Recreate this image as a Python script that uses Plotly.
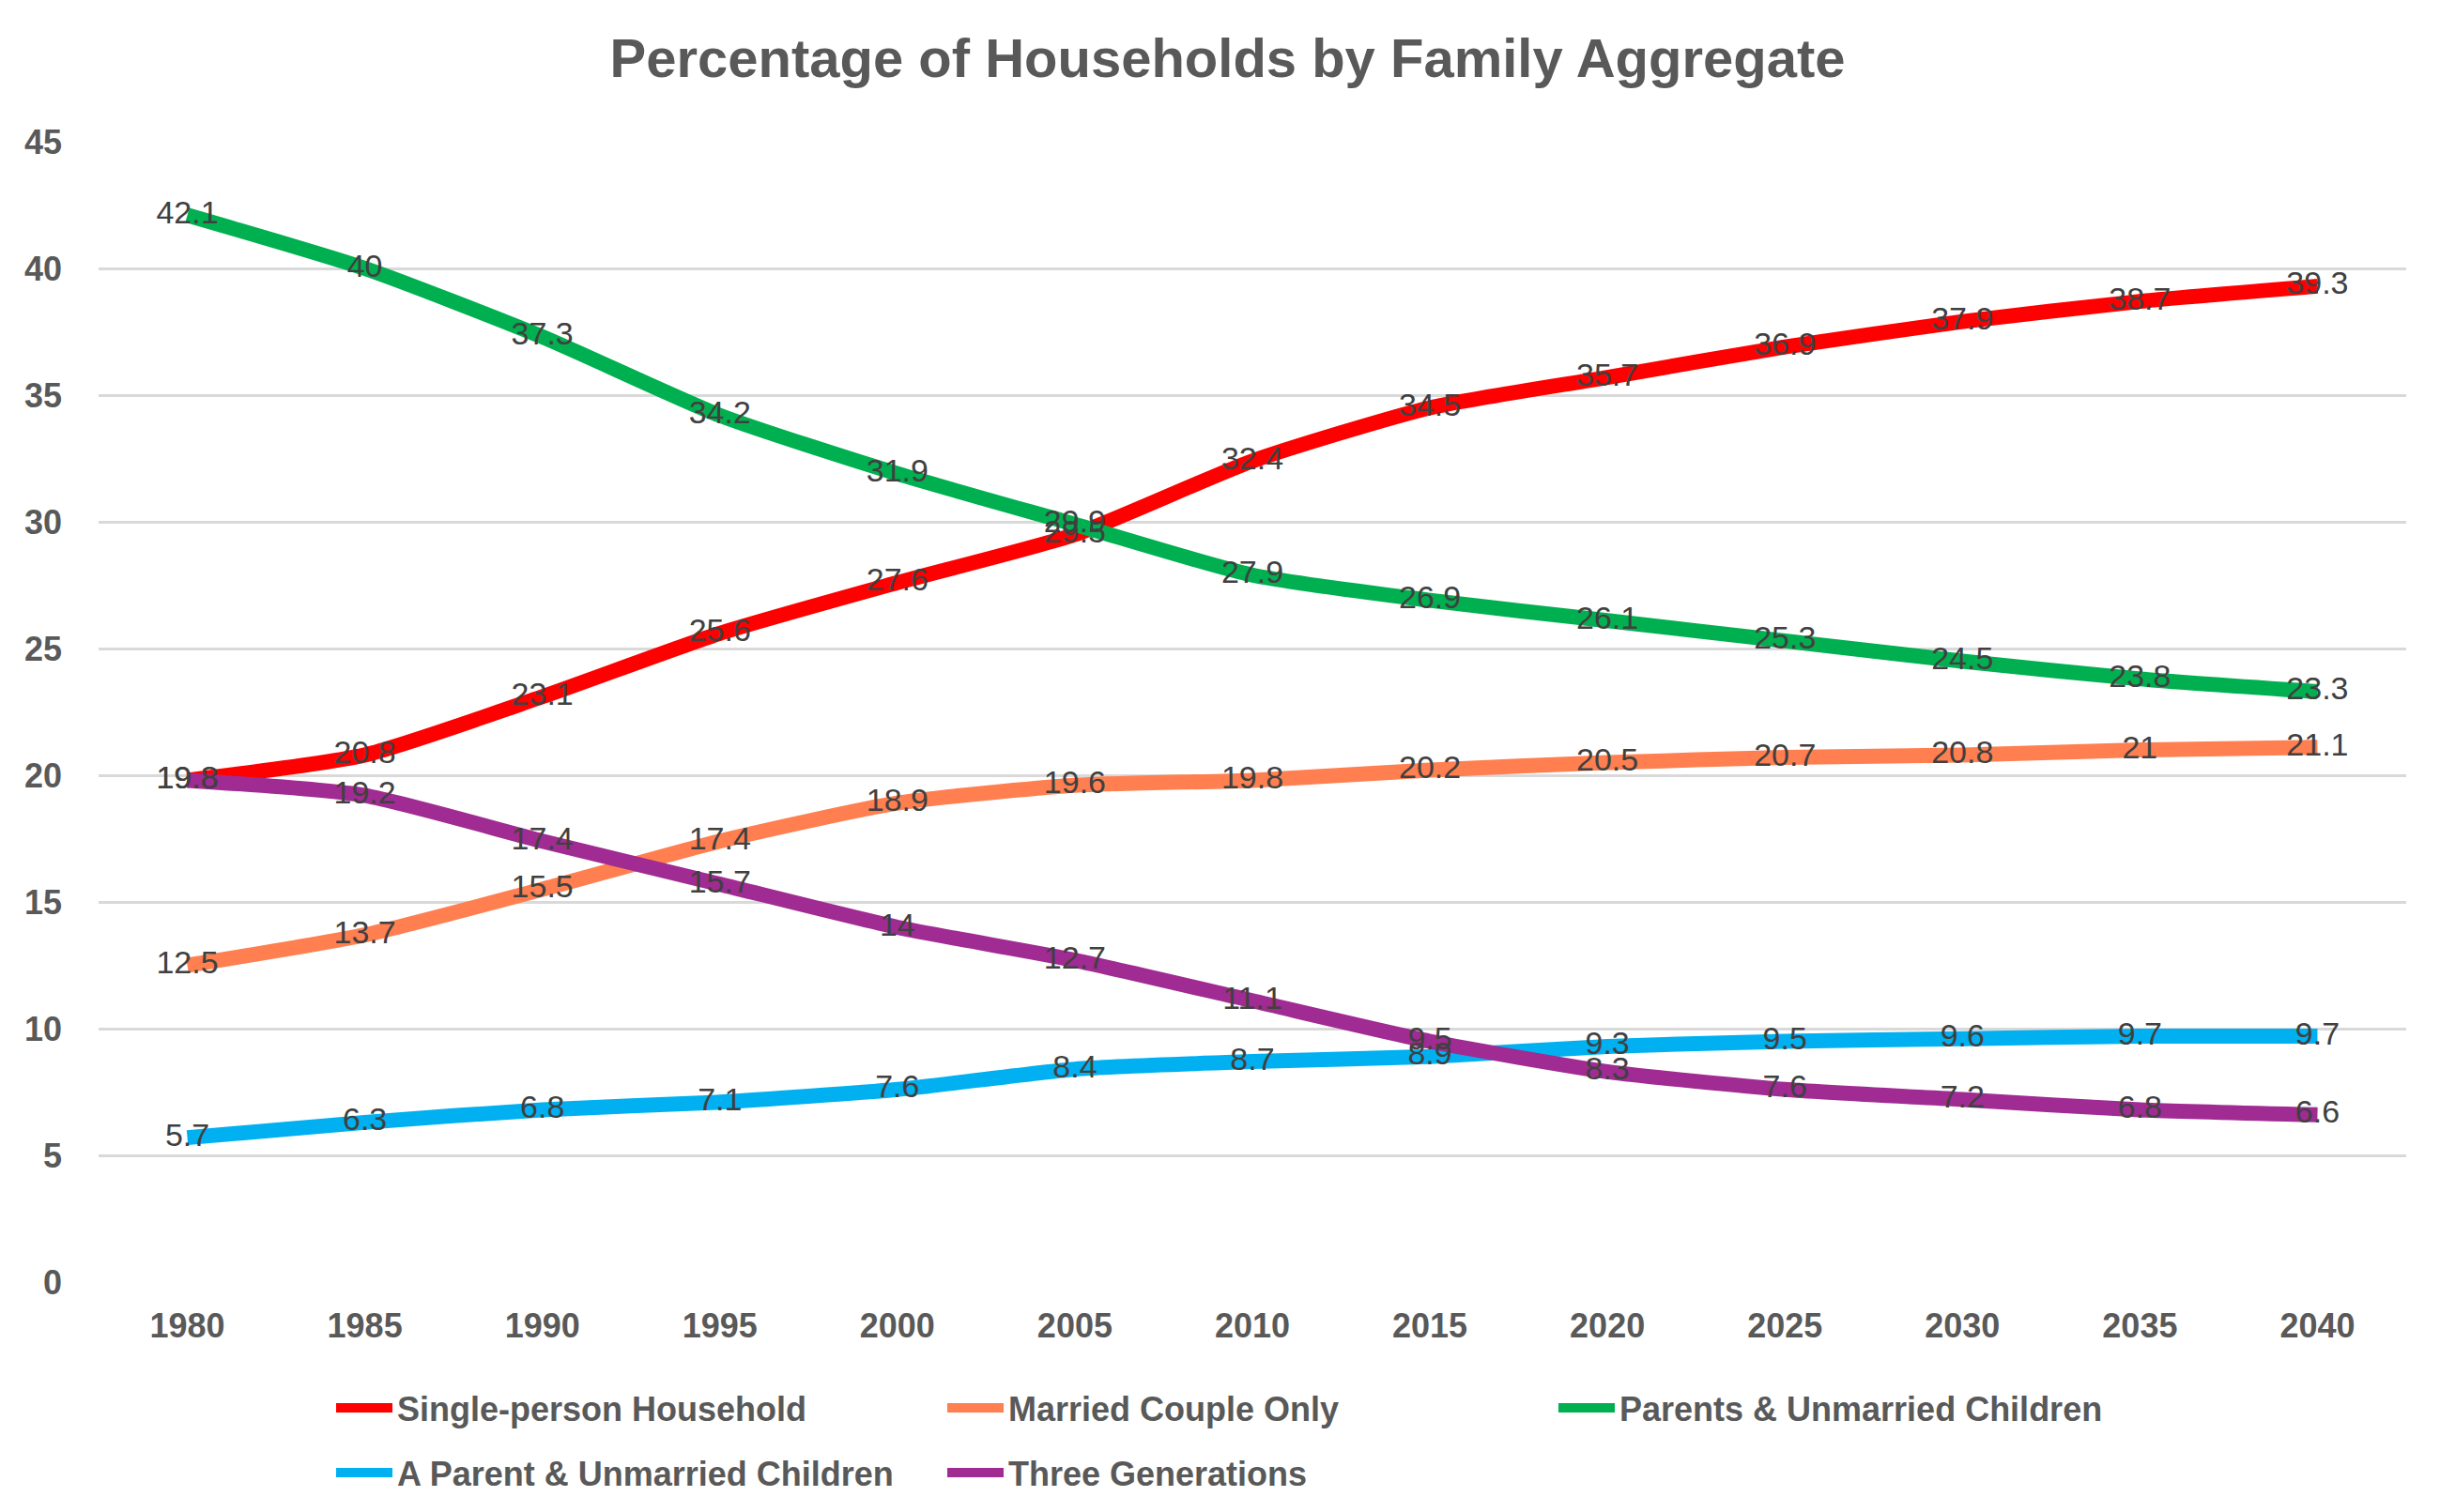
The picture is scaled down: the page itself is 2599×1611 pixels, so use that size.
import plotly.graph_objects as go

years = ["1980", "1985", "1990", "1995", "2000", "2005", "2010", "2015", "2020", "2025", "2030", "2035", "2040"]
single_person = [19.8, 20.8, 23.1, 25.6, 27.6, 29.5, 32.4, 34.5, 35.7, 36.9, 37.9, 38.7, 39.3]
married_couple = [12.5, 13.7, 15.5, 17.4, 18.9, 19.6, 19.8, 20.2, 20.5, 20.7, 20.8, 21, 21.1]
parents_children = [42.1, 40, 37.3, 34.2, 31.9, 29.9, 27.9, 26.9, 26.1, 25.3, 24.5, 23.8, 23.3]
parent_children = [5.7, 6.3, 6.8, 7.1, 7.6, 8.4, 8.7, 8.9, 9.3, 9.5, 9.6, 9.7, 9.7]
three_generations = [19.8, 19.2, 17.4, 15.7, 14, 12.7, 11.1, 9.5, 8.3, 7.6, 7.2, 6.8, 6.6]

series_names = ["Single-person Household", "Married Couple Only", "Parents & Unmarried Children",
                "A Parent & Unmarried Children", "Three Generations"]
series_values = [single_person, married_couple, parents_children, parent_children, three_generations]
series_colors = ["#FF0000", "#FF7F50", "#00B050", "#00B0F0", "#A02B93"]
series_legend = ["legend", "legend", "legend", "legend2", "legend2"]
y_ticks = [0, 5, 10, 15, 20, 25, 30, 35, 40, 45]

FONT = "Liberation Sans"
fig = go.Figure()

for name, vals, col, lg in zip(series_names, series_values, series_colors, series_legend):
    fig.add_trace(go.Scatter(
        x=years, y=vals, name=name, mode="lines", legend=lg,
        line=dict(color=col, width=16, shape="spline", smoothing=0.6),
        hoverinfo="skip",
    ))

for name, vals in zip(series_names, series_values):
    fig.add_trace(go.Scatter(
        x=years, y=vals, mode="text", text=[f"{v:g}" for v in vals],
        textposition="middle center", showlegend=False,
        textfont=dict(family=FONT, size=34, color="#404040"),
        hoverinfo="skip",
    ))

legend_common = dict(orientation="h", xanchor="left", yanchor="middle",
                     entrywidth=576, entrywidthmode="pixels", itemwidth=60,
                     bgcolor="rgba(0,0,0,0)",
                     font=dict(family=FONT, size=36, color="#595959", weight="bold"))

fig.update_layout(
    width=2599, height=1611,
    margin=dict(l=97, r=44, t=143, b=253),
    paper_bgcolor="white", plot_bgcolor="white",
    title=dict(text="<b>Percentage of Households by Family Aggregate</b>",
               x=0.5, xanchor="center", y=1 - 54 / 1611, yanchor="middle",
               font=dict(family=FONT, size=58, color="#595959")),
    xaxis=dict(type="category", range=[-0.5, 12.5], showgrid=False, zeroline=False,
               showline=False, ticks="", ticklabelstandoff=22,
               tickfont=dict(family=FONT, size=36, color="#595959", weight="bold")),
    yaxis=dict(range=[0, 45], tickvals=y_ticks, showgrid=True, gridcolor="#D9D9D9",
               gridwidth=3, zeroline=False, showline=False, ticks="", ticklabelstandoff=38,
               tickfont=dict(family=FONT, size=36, color="#595959", weight="bold")),
    legend=dict(x=0.1009, y=-0.1103, **legend_common),
    legend2=dict(x=0.1009, y=-0.1671, **legend_common),
    showlegend=True,
)

fig.write_html("out.html")
